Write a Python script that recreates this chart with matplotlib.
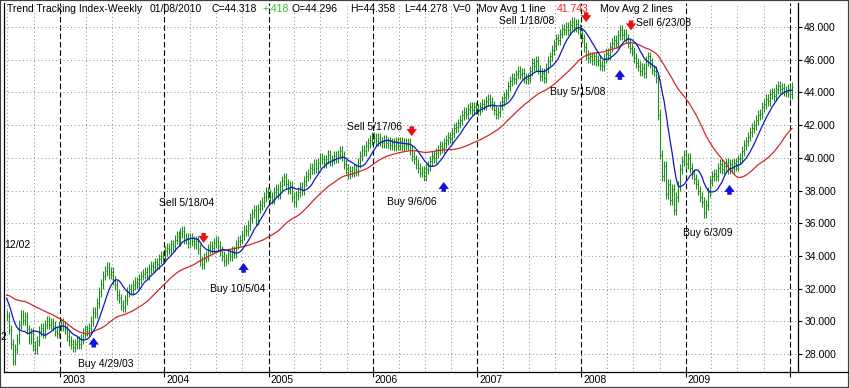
import numpy as np
import pandas as pd
import matplotlib
matplotlib.use("Agg")
import matplotlib.pyplot as plt
import matplotlib.dates as mdates
import matplotlib.transforms as mtransforms
from matplotlib.lines import Line2D
from matplotlib.patches import Rectangle

plt.rcParams['font.family'] = ['Liberation Sans', 'DejaVu Sans']

# weekly closes before the visible window (only feed the moving averages)
prior_closes = [30.2, 30.6, 31.0, 31.3, 30.9, 31.2, 31.5, 31.0, 30.8, 31.3,
                31.6, 31.4, 31.1, 31.3, 31.5, 31.2, 31.7, 32.0, 32.3, 32.1,
                31.8, 32.2, 32.4, 32.0, 31.9, 32.1, 32.5, 33.0, 32.9, 32.9,
                32.6, 32.3, 32.0, 31.8, 31.6, 31.3, 31.0, 30.7, 30.4]

# weekly closes, first bar 6/28/2002, last bar 01/08/2010
closes = [30.3, 29.5, 28.6, 27.6, 28.3, 28.9, 29.8, 30.4, 30.1, 30.3,
          29.5, 28.9, 29.3, 28.5, 28.3, 28.8, 29.4, 29.6, 29.3, 29.8,
          30.0, 29.8, 29.9, 29.7, 29.4, 29.3, 29.7, 29.9, 29.7, 29.5,
          29.1, 28.8, 28.6, 28.4, 28.6, 28.8, 28.6, 28.9, 29.3, 29.5,
          29.4, 29.6, 30.0, 30.6, 30.5, 31.1, 31.8, 32.3, 32.8, 33.1,
          33.3, 32.9, 33.0, 32.5, 32.2, 31.6, 31.4, 31.0, 30.9, 31.3,
          31.8, 32.0, 31.9, 32.2, 32.4, 32.3, 32.6, 32.8, 32.9, 33.0,
          32.8, 33.2, 33.4, 33.3, 33.6, 33.5, 33.8, 34.0, 33.9, 34.3,
          34.5, 34.4, 34.7, 34.6, 35.0, 35.2, 34.9, 35.4, 35.5, 35.0,
          35.1, 34.8, 35.1, 34.9, 34.7, 34.9, 34.4, 33.7, 33.5, 33.9,
          34.0, 34.4, 34.6, 34.5, 34.8, 34.9, 34.6, 34.3, 34.0, 33.7,
          33.8, 34.1, 34.0, 34.3, 34.2, 34.7, 34.9, 35.0, 35.3, 35.6,
          35.5, 35.9, 36.3, 36.6, 36.8, 36.2, 36.9, 37.1, 37.3, 37.6,
          37.9, 37.8, 37.6, 37.5, 37.9, 38.1, 37.8, 38.3, 38.6, 38.8,
          38.4, 38.1, 38.3, 37.6, 37.3, 37.7, 37.9, 38.2, 38.0, 38.6,
          38.9, 39.0, 39.4, 39.3, 39.6, 39.4, 39.7, 40.0, 39.9, 39.7,
          39.9, 40.2, 39.8, 39.9, 40.1, 40.0, 40.2, 40.4, 40.1, 39.6,
          39.3, 39.0, 39.2, 39.1, 39.3, 39.2, 39.7, 40.1, 40.5, 40.4,
          40.7, 40.9, 41.1, 41.3, 41.2, 41.0, 41.2, 41.0, 40.9, 41.1,
          40.9, 41.0, 40.8, 40.9, 40.7, 41.0, 40.8, 41.0, 40.7, 40.9,
          40.8, 40.9, 40.5, 40.1, 39.9, 39.6, 39.4, 39.1, 39.2, 38.9,
          39.3, 39.5, 39.8, 40.1, 40.0, 40.3, 40.5, 40.7, 40.6, 40.9,
          41.1, 41.3, 41.2, 41.5, 41.8, 41.9, 42.1, 42.3, 42.6, 42.8,
          42.7, 43.0, 43.1, 42.9, 43.1, 43.0, 42.9, 43.1, 43.3, 43.2,
          43.5, 43.6, 43.4, 43.2, 42.9, 42.7, 42.8, 43.2, 43.5, 43.7,
          43.9, 44.4, 44.7, 44.9, 44.8, 45.1, 45.3, 45.1, 45.2, 44.9,
          44.8, 44.9, 45.3, 45.8, 45.6, 45.9, 45.4, 45.0, 45.2, 44.9,
          45.5, 45.9, 46.2, 46.6, 46.9, 47.3, 47.2, 47.6, 47.9, 47.8,
          48.0, 47.8, 48.1, 48.3, 48.0, 48.2, 47.9, 47.6, 47.3, 46.8,
          46.3, 46.1, 46.2, 46.0, 46.2, 45.9, 46.0, 45.7, 45.6, 46.1,
          46.4, 46.3, 46.8, 47.0, 47.2, 47.0, 47.5, 47.8, 47.5, 47.6,
          47.3, 47.0, 46.7, 46.5, 46.1, 45.8, 45.6, 45.3, 45.5, 45.2,
          45.9, 46.2, 45.8, 45.4, 45.3, 44.9, 42.6, 40.2, 38.9, 39.5,
          37.8, 38.4, 37.4, 38.1, 36.8, 37.6, 38.3, 39.3, 39.8, 40.2,
          39.6, 40.0, 39.4, 39.0, 38.7, 38.4, 38.0, 37.6, 37.3, 36.6,
          37.1, 37.9, 38.6, 38.9, 39.0, 38.9, 39.4, 39.6, 39.3, 39.5,
          39.7, 39.3, 39.6, 39.4, 39.7, 39.5, 39.9, 40.0, 40.4, 40.8,
          41.0, 41.3, 41.6, 41.8, 42.0, 42.3, 42.6, 42.7, 43.1, 43.3,
          43.6, 43.5, 43.9, 44.0, 43.8, 44.2, 44.4, 44.2, 44.3, 44.1,
          44.0, 44.2, 43.9, 44.318]

# buy / sell signals
signal_dates = ['2003-04-29', '2004-05-18', '2004-10-05', '2006-05-17', '2006-09-06',
                '2008-01-18', '2008-05-15', '2008-06-23', '2009-06-03']
signal_kinds = ['Buy', 'Sell', 'Buy', 'Sell', 'Buy', 'Sell', 'Buy', 'Sell', 'Buy']
signal_tips = [29.0, 34.8, 33.57, 41.33, 38.52, 48.3, 45.37, 47.8, 38.34]

# signal captions: text, left date, price
label_texts = ['Buy 4/29/03', 'Sell 5/18/04', 'Buy 10/5/04', 'Sell 5/17/06', 'Buy 9/6/06',
               'Sell 1/18/08', 'Buy 5/15/08', 'Sell 6/23/08', 'Buy 6/3/09', '12/02']
label_dates = ['2003-03-05', '2003-12-12', '2004-06-08', '2005-10-03', '2006-02-18',
               '2007-03-19', '2007-09-14', '2008-07-12', '2008-12-23', '2002-06-18']
label_prices = [27.39, 37.24, 31.97, 41.88, 37.3, 48.37, 44.0, 48.24, 35.4, 34.67]

y_ticks = [28, 30, 32, 34, 36, 38, 40, 42, 44, 46, 48]
year_labels = ['2003', '2004', '2005', '2006', '2007', '2008', '2009']

green = '#1f8f1f'
W, H = 849, 388

dates = pd.date_range('2002-06-28', periods=len(closes), freq='W-FRI')
allc = pd.Series(prior_closes + closes)
ma1 = allc.rolling(10).mean().to_numpy()[len(prior_closes):]
ma2 = allc.rolling(40).mean().to_numpy()[len(prior_closes):]

c = np.array(closes)
opens = np.concatenate([[prior_closes[-1]], c[:-1]])
pad = 0.3
highs = np.maximum(opens, c) + pad
lows = np.minimum(opens, c) - pad

fig = plt.figure(figsize=(W / 100, H / 100), dpi=100)
ax = fig.add_axes([3.5 / W, (H - 372) / H, (798 - 3.5) / W, (372 - 3) / H])

ax.vlines(dates, lows, highs, color=green, lw=0.8, zorder=3)
tick = pd.Timedelta(days=2.8)
ax.hlines(opens, dates - tick, dates, color=green, lw=0.7, zorder=3)
ax.hlines(c, dates, dates + tick, color=green, lw=0.7, zorder=3)
ax.plot(dates, ma2, color='#d02828', lw=0.9, zorder=4)
ax.plot(dates, ma1, color='#1414c8', lw=0.9, zorder=5)

for d, kind, tip in zip(signal_dates, signal_kinds, signal_tips):
    d = pd.Timestamp(d)
    if kind == 'Buy':
        tail, col = tip - 0.6, '#1010d8'
    else:
        tail, col = tip + 0.6, '#e81010'
    ax.annotate('', xy=(d, tip), xytext=(d, tail),
                arrowprops=dict(arrowstyle='simple,head_length=0.5,head_width=0.75,tail_width=0.32',
                                mutation_scale=10, color=col, lw=0, shrinkA=0, shrinkB=0),
                zorder=6)

for t, d, p in zip(label_texts, label_dates, label_prices):
    ax.text(pd.Timestamp(d), p, t, fontsize=7.5, ha='left', va='center', zorder=7)
ax.text(pd.Timestamp('2002-06-17'), 29.04, '2', fontsize=7.5, ha='center', va='center', zorder=7)

ax.set_xlim(pd.Timestamp('2002-06-17'), pd.Timestamp('2010-01-29'))
ax.set_ylim(26.9, 49.47)

ax.xaxis.set_major_locator(mdates.YearLocator())
ax.xaxis.set_minor_locator(mdates.MonthLocator(bymonth=[4, 7, 10]))
ax.xaxis.set_major_formatter(plt.NullFormatter())
ax.set_yticks(y_ticks)
ax.yaxis.set_major_formatter(plt.FormatStrFormatter('%.3f'))
ax.yaxis.tick_right()
ax.tick_params(axis='y', which='major', length=3, width=0.8, pad=1.5, labelsize=7.5, colors='black')
ax.tick_params(axis='x', which='major', length=3.6, width=0.8, direction='out')
ax.tick_params(axis='x', which='minor', length=0)

ax.set_axisbelow(True)
ax.grid(which='major', axis='x', color='black', ls=(0, (5, 2.5)), lw=0.8)
ax.grid(which='minor', axis='x', color='#8a8a8a', ls=(0, (1, 2.8)), lw=0.7)
ax.grid(which='major', axis='y', color='#8a8a8a', ls=(0, (1, 2.8)), lw=0.7)

for s in ['left', 'right', 'bottom']:
    ax.spines[s].set_linewidth(0.9)
ax.spines['top'].set_visible(False)

lab_tr = mtransforms.offset_copy(ax.get_xaxis_transform(), fig=fig, x=2, y=0, units='dots')
for yl in year_labels:
    ax.text(pd.Timestamp(yl + '-01-01'), -0.022, yl, transform=lab_tr,
            fontsize=7.5, ha='left', va='center', clip_on=False)

# header line
header = [(7, 'Trend Tracking Index-Weekly', 'black'), (150, '01/08/2010', 'black'),
          (212, 'C=44.318', 'black'), (263, '+.418', '#30c030'), (292, 'O=44.296', 'black'),
          (350, 'H=44.358', 'black'), (404, 'L=44.278', 'black'), (453, 'V=0', 'black'),
          (478, 'Mov Avg 1 line', 'black'), (557, '41.743', '#f02020'),
          (600, 'Mov Avg 2 lines', 'black')]
for px, t, col in header:
    fig.text(px / W, 1 - 9 / H, t, fontsize=7.5, color=col, ha='left', va='center')

# bottom line through the label strip and outer frame
fig.add_artist(Line2D([798 / W, 1], [(H - 372) / H] * 2, color='black', lw=0.9))
fig.add_artist(Rectangle((0, 0), 1, 1, transform=fig.transFigure, fill=False,
                         edgecolor='#404040', lw=1.6))

fig.savefig('out.png', dpi=100)
